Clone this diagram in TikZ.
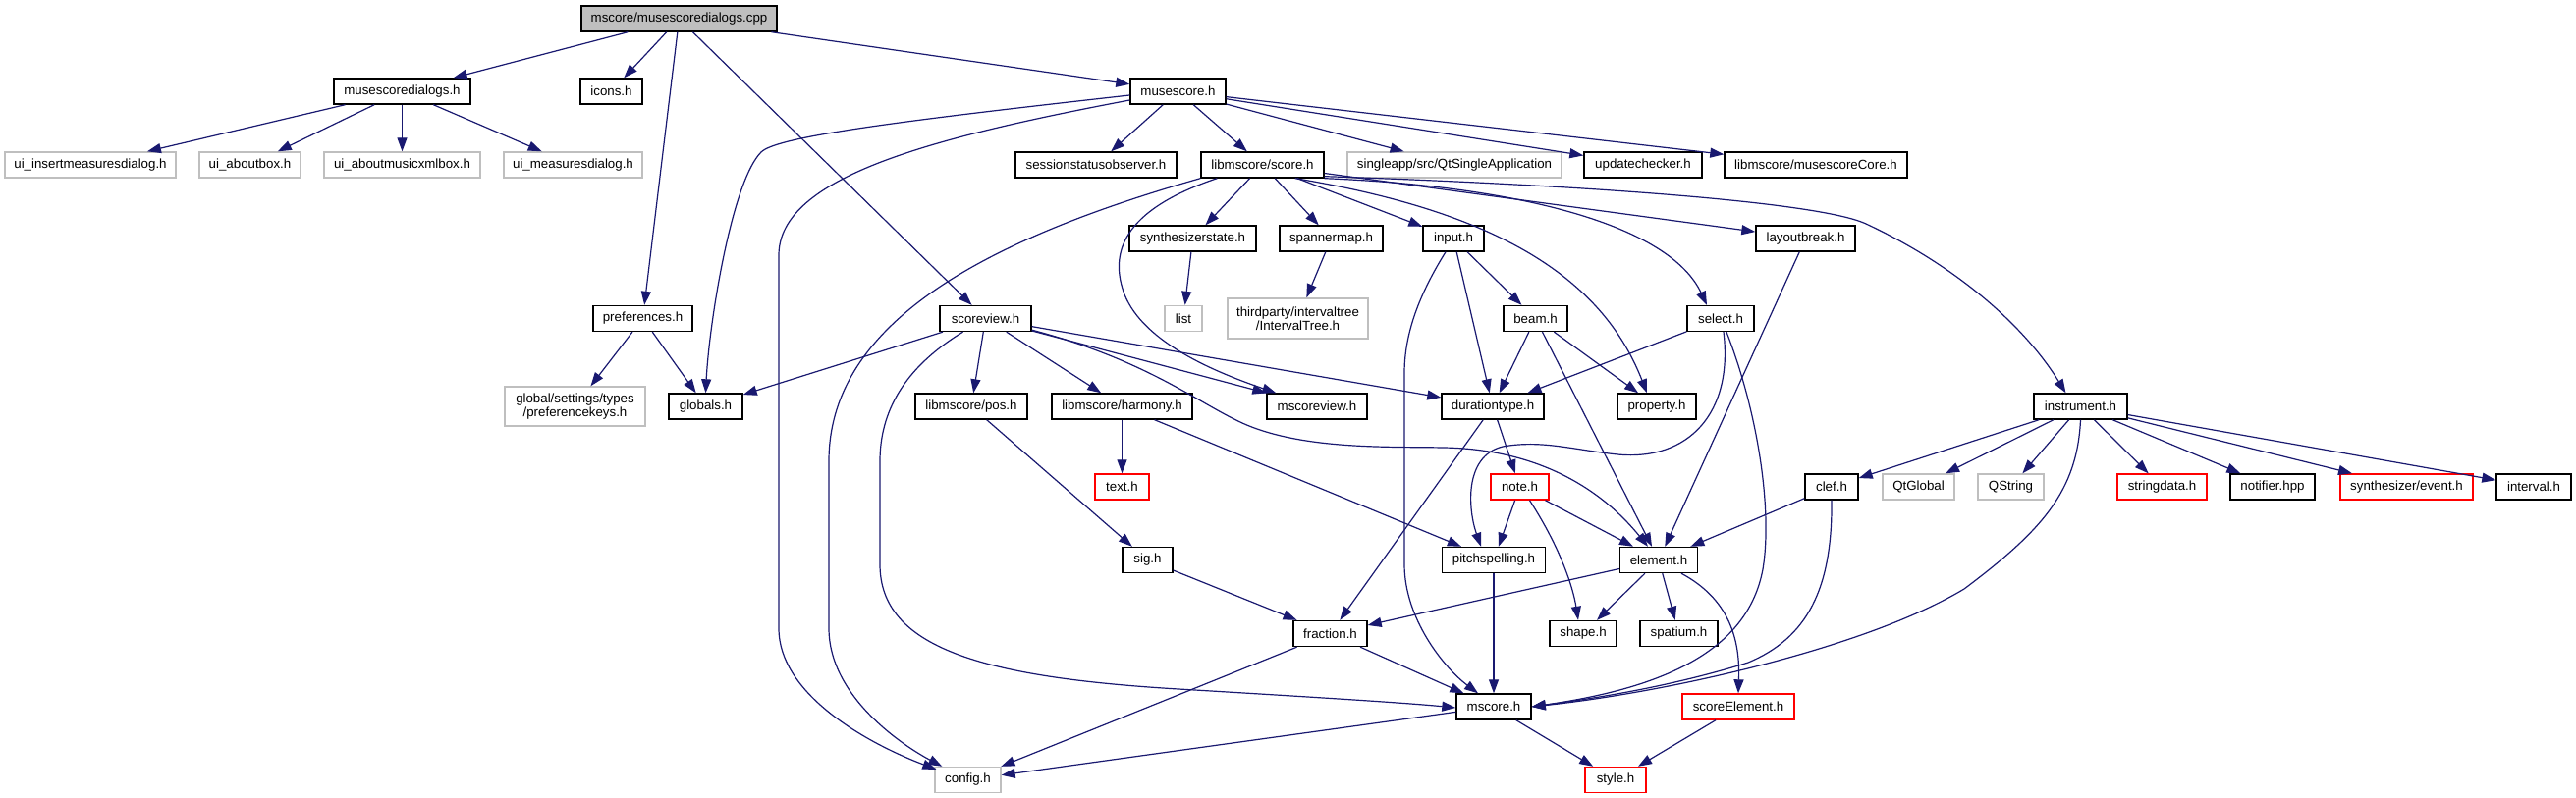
\documentclass[tikz,border=0pt]{standalone}
\usepackage{fontspec}
\setmainfont{Liberation Sans}
\usetikzlibrary{arrows.meta}
\definecolor{navy}{HTML}{191970}
\definecolor{grey75}{HTML}{BFBFBF}
\begin{document}
\begin{tikzpicture}[x=1pt,y=-1pt,
 box/.style={draw=black,line width=1.4pt,fill=white,inner sep=0pt,minimum height=26pt,font=\fontsize{13.3pt}{14pt}\selectfont},
 ext/.style={box,draw=grey75},
 inc/.style={box,draw=red},
 dep/.style={draw=navy,line width=1.2pt,-{Triangle[length=14pt,width=10pt]}}]
\useasboundingbox[fill=white] (0,0) rectangle (2623,813);
% row 1
\node[box,fill=grey75,minimum width=199pt] (root) at (691.5,19) {mscore/musescoredialogs.cpp};
% row 2
\node[box,minimum width=139pt] (msd) at (409.5,93) {musescoredialogs.h};
\node[box,minimum width=63pt] (icons) at (622.5,93) {icons.h};
\node[box,minimum width=97pt] (msc) at (1199.5,93) {musescore.h};
% row 3
\node[ext,minimum width=174pt] (uiins) at (92,168) {ui\_insertmeasuresdialog.h};
\node[ext,minimum width=103pt] (uiab) at (254.5,168) {ui\_aboutbox.h};
\node[ext,minimum width=159pt] (uimx) at (409.5,168) {ui\_aboutmusicxmlbox.h};
\node[ext,minimum width=141pt] (uims) at (583.5,168) {ui\_measuresdialog.h};
\node[box,minimum width=164pt] (sso) at (1116,168) {sessionstatusobserver.h};
\node[box,minimum width=125pt] (score) at (1285.5,168) {libmscore/score.h};
\node[ext,minimum width=218pt] (qtsa) at (1481,168) {singleapp/src/QtSingleApplication};
\node[box,minimum width=120pt] (upd) at (1673,168) {updatechecker.h};
\node[box,minimum width=186pt] (msccore) at (1849,168) {libmscore/musescoreCore.h};
% row 4
\node[box,minimum width=129pt] (synth) at (1214.5,243) {synthesizerstate.h};
\node[box,minimum width=105pt] (span) at (1355.5,243) {spannermap.h};
\node[box,minimum width=62pt] (input) at (1480,243) {input.h};
\node[box,minimum width=101pt] (lbreak) at (1838.5,243) {layoutbreak.h};
% row 5
\node[box,minimum width=101pt] (pref) at (654.5,324.5) {preferences.h};
\node[box,minimum width=93pt] (sv) at (1003.5,324.5) {scoreview.h};
\node[ext,minimum width=38pt] (list) at (1205,324.5) {list};
\node[ext,minimum width=143pt,minimum height=41pt,align=center] (itree) at (1321.5,324.5) {thirdparty/intervaltree\\/IntervalTree.h};
\node[box,minimum width=65pt] (beam) at (1563.5,324.5) {beam.h};
\node[box,minimum width=68pt] (sel) at (1752,324.5) {select.h};
% row 6
\node[ext,minimum width=143pt,minimum height=40pt,align=center] (pkeys) at (585.5,414) {global/settings/types\\/preferencekeys.h};
\node[box,minimum width=75pt] (glob) at (718.5,414) {globals.h};
\node[box,minimum width=114pt] (pos) at (989,414) {libmscore/pos.h};
\node[box,minimum width=143pt] (harm) at (1142.5,414) {libmscore/harmony.h};
\node[box,minimum width=102pt] (mscv) at (1341,414) {mscoreview.h};
\node[box,minimum width=104pt] (dur) at (1520,414) {durationtype.h};
\node[box,minimum width=80pt] (prop) at (1687,414) {property.h};
\node[box,minimum width=95pt] (instr) at (2118.5,414) {instrument.h};
% row 7
\node[inc,minimum width=55pt] (text) at (1142.5,496) {text.h};
\node[inc,minimum width=59pt] (note) at (1547.5,496) {note.h};
\node[box,minimum width=54pt] (clef) at (1865,496) {clef.h};
\node[ext,minimum width=73pt] (qtg) at (1953.5,496) {QtGlobal};
\node[ext,minimum width=67pt] (qstr) at (2047.5,496) {QString};
\node[inc,minimum width=91pt] (sdata) at (2201.5,496) {stringdata.h};
\node[box,minimum width=86pt] (notif) at (2314,496) {notifier.hpp};
\node[inc,minimum width=135pt] (sevt) at (2450.5,496) {synthesizer/event.h};
\node[box,minimum width=76pt] (intv) at (2580,496) {interval.h};
% row 8
\node[box,minimum width=51pt] (sig) at (1168.5,570.5) {sig.h};
\node[box,minimum width=105pt] (pitch) at (1521,570.5) {pitchspelling.h};
\node[box,minimum width=79pt] (elem) at (1689,570.5) {element.h};
% row 9
\node[box,minimum width=75pt] (frac) at (1354.5,645.5) {fraction.h};
\node[box,minimum width=68pt] (shape) at (1612,645.5) {shape.h};
\node[box,minimum width=79pt] (spat) at (1709.5,645.5) {spatium.h};
% row 10
\node[box,minimum width=76pt] (mscore) at (1521,720) {mscore.h};
\node[inc,minimum width=114pt] (scel) at (1770,720) {scoreElement.h};
% row 11
\node[ext,minimum width=67pt] (conf) at (985.5,794.5) {config.h};
\node[inc,minimum width=62pt] (style) at (1645,794.5) {style.h};

% straight connectors
\foreach \a/\b in {root/msd,root/icons,root/pref,root/sv,root/msc,
  msd/uiins,msd/uiab,msd/uimx,msd/uims,
  msc/sso,msc/score,msc/qtsa,msc/upd,msc/msccore,
  score/synth,score/span,score/input,score/lbreak,
  synth/list,span/itree,input/beam,input/dur,
  beam/dur,beam/prop,beam/elem,sel/dur,lbreak/elem,
  pref/pkeys,pref/glob,
  sv/glob,sv/pos,sv/harm,sv/mscv,sv/dur,
  pos/sig,harm/text,harm/pitch,
  dur/note,dur/frac,note/pitch,note/elem,clef/elem,
  elem/frac,elem/shape,elem/spat,sig/frac,
  frac/mscore,frac/conf,pitch/mscore,mscore/conf,mscore/style,scel/style,
  instr/clef,instr/qtg,instr/qstr,instr/sdata,instr/notif,instr/sevt,instr/intv}
  \draw[dep] (\a) -- (\b);

% curved connectors
\draw[dep] ([yshift=-4pt]msc.west) .. controls (900,125) and (790,140) .. (775,155) .. controls (745,185) and (722,330) .. (glob.north);
\draw[dep] ([yshift=-9pt]msc.west) .. controls (950,140) and (793,180) .. (793,260) -- (793,640) .. controls (793,710) and (890,760) .. ([xshift=2pt,yshift=-3pt]conf.north west);
\draw[dep] (score.south west) .. controls (1000,245) and (844,330) .. (844,470) -- (844,640) .. controls (844,710) and (920,760) .. ([xshift=8pt]conf.north west);
\draw[dep] ([xshift=17pt]score.south west) .. controls (1140,215) and (1130,260) .. (1145,300) .. controls (1165,350) and (1240,380) .. ([xshift=10pt]mscv.north west);
\draw[dep] ([xshift=-30pt]score.south east) .. controls (1520,215) and (1630,280) .. ([xshift=-10pt]prop.north);
\draw[dep] (score.south east) .. controls (1550,190) and (1700,230) .. ([xshift=-14pt]sel.north);
\draw[dep] ([yshift=2pt]score.south east) .. controls (1600,188) and (1850,205) .. (1900,228) .. controls (1990,270) and (2060,330) .. ([xshift=-15pt]instr.north);
\draw[dep] ([xshift=-23pt]sv.south) .. controls (920,375) and (896,420) .. (896,470) -- (896,575) .. controls (896,660) and (1000,690) .. (1200,702) .. controls (1350,711) and (1430,716) .. ([yshift=-1pt]mscore.west);
\draw[dep] ([yshift=2pt]sv.south east) .. controls (1180,370) and (1230,420) .. (1280,437) .. controls (1340,458) and (1420,455) .. (1470,456) .. controls (1580,458) and (1640,510) .. ([xshift=-11pt]elem.north);
\draw[dep] ([xshift=-8pt]input.south) .. controls (1445,300) and (1430,340) .. (1430,380) -- (1430,575) .. controls (1430,630) and (1470,680) .. ([xshift=-16pt]mscore.north);
\draw[dep] ([xshift=3pt]sel.south) .. controls (1765,420) and (1720,470) .. (1647,463) .. controls (1600,458) and (1570,448) .. (1530,455) .. controls (1490,465) and (1495,520) .. ([xshift=-13pt]pitch.north);
\draw[dep] ([xshift=6pt]sel.south) .. controls (1790,420) and (1805,520) .. (1795,580) .. controls (1780,660) and (1700,700) .. (mscore.east);
\draw[dep] (clef.south) .. controls (1866,600) and (1840,650) .. (1780,675) .. controls (1700,700) and (1620,712) .. (mscore.east);
\draw[dep] (instr.south) .. controls (2115,500) and (2080,540) .. (2000,600) .. controls (1900,660) and (1700,705) .. (mscore.east);
\draw[dep] ([xshift=23pt]elem.south) .. controls (1760,610) and (1772,650) .. (scel.north);
\draw[dep] ([xshift=10pt]note.south) .. controls (1590,560) and (1602,600) .. ([xshift=-5pt]shape.north);
\end{tikzpicture}
\end{document}
